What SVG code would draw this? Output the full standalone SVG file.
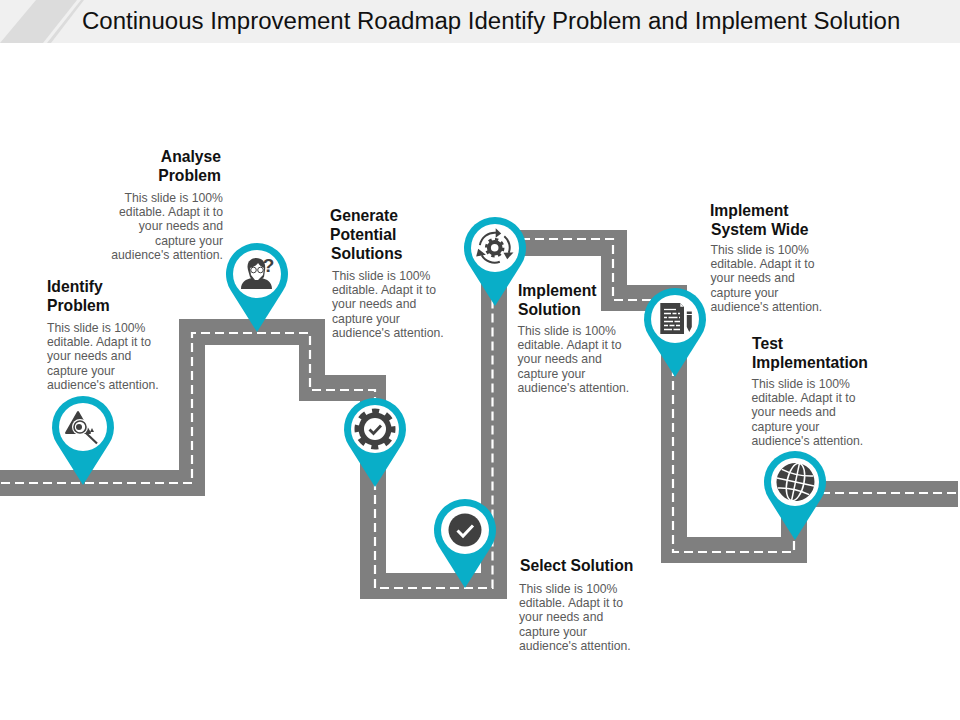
<svg xmlns="http://www.w3.org/2000/svg" width="960" height="720" viewBox="0 0 960 720">
<style>
text{font-family:"Liberation Sans",Arial,sans-serif}
.t{font-size:24.030px;fill:#111}
.h{font-size:15.700px;font-weight:bold;fill:#111}
.b{font-size:12.230px;fill:#5a5a5a}
.e{text-anchor:end}
.pin{fill:#09aec8}
.hole{fill:#fff}
.ic{fill:#404040}
.ln{fill:none;stroke:#404040}
.wl{fill:none;stroke:#fff}
</style>
<defs>
<path id="pinshape" d="M-26.2 16.6A31 31 0 1 1 26.2 16.6L0 58Z"/>
</defs>
<g id="header">
<rect x="0" y="0" width="960" height="43" fill="#f0f0f0"/>
<polygon points="0,43 36,0 77,0 43,43" fill="#dcdcdc"/>
<polygon points="47,43 81,0 84,0 51,43" fill="#dcdcdc"/>
<text class="t" x="82" y="28.500">Continuous Improvement Roadmap Identify Problem and Implement Solution</text>
</g>
<g id="connectors" fill="none">
<path d="M0 483H192V332H312V388H373V586H494V243H614V298H674V550H794V494H958" stroke="#7f7f7f" stroke-width="26" stroke-linejoin="miter"/>
<path d="M1 483H192V333H310V390H375V588H492.500V239H613V300H673V552H794V493H958" stroke="#fff" stroke-width="2.200" stroke-dasharray="9 5"/>
</g>
<g id="identify-problem">
<use href="#pinshape" class="pin" x="83" y="427"/>
<circle class="hole" cx="83" cy="427" r="24"/>
<polygon class="ic" points="78,412 66,433 90,433" stroke="#404040" stroke-width="2" stroke-linejoin="round"/>
<circle cx="80" cy="427" r="8" fill="#fff"/>
<circle cx="80" cy="427" r="6" fill="none" stroke="#404040" stroke-width="1.600"/>
<circle cx="79" cy="427" r="3" class="ic"/>
<path d="M86 433L97 443.500" stroke="#404040" stroke-width="2.200" fill="none"/>
<path d="M92 428l2 4h-4z" class="ic"/>
<text class="h" x="47" y="292">Identify</text>
<text class="h" x="47" y="311">Problem</text>
<text class="b" x="47" y="332">This slide is 100%</text>
<text class="b" x="47" y="346">editable. Adapt it to</text>
<text class="b" x="47" y="360">your needs and</text>
<text class="b" x="47" y="375">capture your</text>
<text class="b" x="47" y="389">audience's attention.</text>
</g>
<g id="analyse-problem">
<use href="#pinshape" class="pin" x="257" y="274"/>
<circle class="hole" cx="257" cy="274" r="24"/>
<path class="ic" d="M241 289C241 282 246 279 252 278L256 282L261 278C267 279 272 282 272 289Z"/>
<path class="ic" d="M248 270C246 262 251 258 256 258C263 258 266 263 265 270L264 277L259 282H254L250 277Z"/>
<path d="M250 268C254 267 257 265 258 263C260 266 262 267 264 268L263 275L258 280H255L251 275Z" fill="#fff"/>
<circle cx="253.500" cy="270" r="2.800" fill="#fff" stroke="#404040" stroke-width="1"/>
<circle cx="260.500" cy="270" r="2.800" fill="#fff" stroke="#404040" stroke-width="1"/>
<text x="268.500" y="272" font-size="19" font-weight="bold" fill="#404040" text-anchor="middle">?</text>
<text class="h e" x="221" y="162">Analyse</text>
<text class="h e" x="221" y="181">Problem</text>
<text class="b e" x="223" y="202">This slide is 100%</text>
<text class="b e" x="223" y="216">editable. Adapt it to</text>
<text class="b e" x="223" y="230">your needs and</text>
<text class="b e" x="223" y="245">capture your</text>
<text class="b e" x="223" y="259">audience's attention.</text>
</g>
<g id="generate-potential-solutions">
<use href="#pinshape" class="pin" x="375" y="429"/>
<circle class="hole" cx="375" cy="429" r="24"/>
<circle class="ic" cx="375" cy="429" r="16.500"/>
<circle cx="375" cy="429" r="18" fill="none" stroke="#404040" stroke-width="5" stroke-dasharray="7.070 7.070" stroke-dashoffset="3.500"/>
<circle class="hole" cx="375" cy="429" r="11"/>
<path d="M369.500 429.500L373.500 433.500L381 425.500" fill="none" stroke="#404040" stroke-width="2.800"/>
<text class="h" x="330" y="221">Generate</text>
<text class="h" x="330" y="240">Potential</text>
<text class="h" x="331" y="259">Solutions</text>
<text class="b" x="332" y="280">This slide is 100%</text>
<text class="b" x="332" y="294">editable. Adapt it to</text>
<text class="b" x="332" y="308">your needs and</text>
<text class="b" x="332" y="323">capture your</text>
<text class="b" x="332" y="337">audience's attention.</text>
</g>
<g id="select-solution">
<use href="#pinshape" class="pin" x="465" y="530"/>
<circle class="hole" cx="465" cy="530" r="24"/>
<circle class="ic" cx="465" cy="530" r="16.500"/>
<path d="M457.500 530.500L463 536L473 525.500" fill="none" stroke="#fff" stroke-width="3"/>
<text class="h" x="520" y="571">Select Solution</text>
<text class="b" x="519" y="593">This slide is 100%</text>
<text class="b" x="519" y="607">editable. Adapt it to</text>
<text class="b" x="519" y="621">your needs and</text>
<text class="b" x="519" y="636">capture your</text>
<text class="b" x="519" y="650">audience's attention.</text>
</g>
<g id="implement-solution">
<use href="#pinshape" class="pin" x="495" y="248"/>
<circle class="hole" cx="495" cy="248" r="24"/>
<g transform="translate(494.700 247.700)">
<circle class="ln" r="5.800" stroke-width="4"/>
<circle class="ln" r="8.500" stroke-width="2.500" stroke-dasharray="3.340 3.340"/>
<path class="ln" stroke-width="2" d="M-14.800 -2.600A15 15 0 0 1 1.300 -14.900"/>
<path class="ic" d="M6.500 -14.300L1 -19.500V-10Z"/>
<path class="ln" stroke-width="2" d="M9.600 -11.500A15 15 0 0 1 14.100 5.100"/>
<path class="ic" d="M12.500 11.500L8.800 5L18.800 4.800Z"/>
<path class="ln" stroke-width="2" d="M5.100 14.100A15 15 0 0 1 -13 7.500"/>
<path class="ic" d="M-16.500 1L-18.500 8.800L-8.800 7Z"/>
</g>
<text class="h" x="518" y="295.500">Implement</text>
<text class="h" x="518" y="314.500">Solution</text>
<text class="b" x="517.500" y="335">This slide is 100%</text>
<text class="b" x="517.500" y="349">editable. Adapt it to</text>
<text class="b" x="517.500" y="363">your needs and</text>
<text class="b" x="517.500" y="378">capture your</text>
<text class="b" x="517.500" y="392">audience's attention.</text>
</g>
<g id="implement-system-wide">
<use href="#pinshape" class="pin" x="675" y="319"/>
<circle class="hole" cx="675" cy="319" r="24"/>
<path class="ic" d="M660.300 303H680L684 307V334H660.300Z"/>
<path class="hole" d="M680.300 303.500L683.500 306.700H680.300Z"/>
<g class="wl" stroke-width="1.300">
<path d="M664 309.500H676"/>
<path d="M664 313.500H680" stroke-dasharray="7 1.500 4 1.500 2 9"/>
<path d="M664 317.500H680" stroke-dasharray="3 1.500 9 1.500 3 9"/>
<path d="M664 321.500H680" stroke-dasharray="9 1.500 6 9"/>
<path d="M664 325.500H680" stroke-dasharray="4 1.500 5 1.500 4 9"/>
<path d="M664 329.500H680" stroke-dasharray="8 1.500 7 9"/>
</g>
<path class="ic" d="M686.800 311.500H691.800V314H686.800ZM686.800 315H691.800V327L689.300 332L686.800 327Z"/>
<text class="h" x="710" y="216">Implement</text>
<text class="h" x="711" y="235">System Wide</text>
<text class="b" x="710.500" y="254">This slide is 100%</text>
<text class="b" x="710.500" y="268">editable. Adapt it to</text>
<text class="b" x="710.500" y="282">your needs and</text>
<text class="b" x="710.500" y="297">capture your</text>
<text class="b" x="710.500" y="311">audience's attention.</text>
</g>
<g id="test-implementation">
<use href="#pinshape" class="pin" x="795" y="482"/>
<circle class="hole" cx="795" cy="482" r="24"/>
<g transform="translate(795.500 482) rotate(12)">
<circle class="ic" r="19"/>
<g class="wl" stroke-width="1.500">
<ellipse rx="8.500" ry="19"/>
<path d="M0 -19V19"/>
<path d="M-19 0H19"/>
<path d="M-16 -9.500Q0 -5.500 16 -9.500"/>
<path d="M-16 9.500Q0 5.500 16 9.500"/>
</g>
</g>
<text class="h" x="752" y="348.500">Test</text>
<text class="h" x="752" y="367.500">Implementation</text>
<text class="b" x="751.500" y="388">This slide is 100%</text>
<text class="b" x="751.500" y="402">editable. Adapt it to</text>
<text class="b" x="751.500" y="416">your needs and</text>
<text class="b" x="751.500" y="431">capture your</text>
<text class="b" x="751.500" y="445">audience's attention.</text>
</g>
</svg>
